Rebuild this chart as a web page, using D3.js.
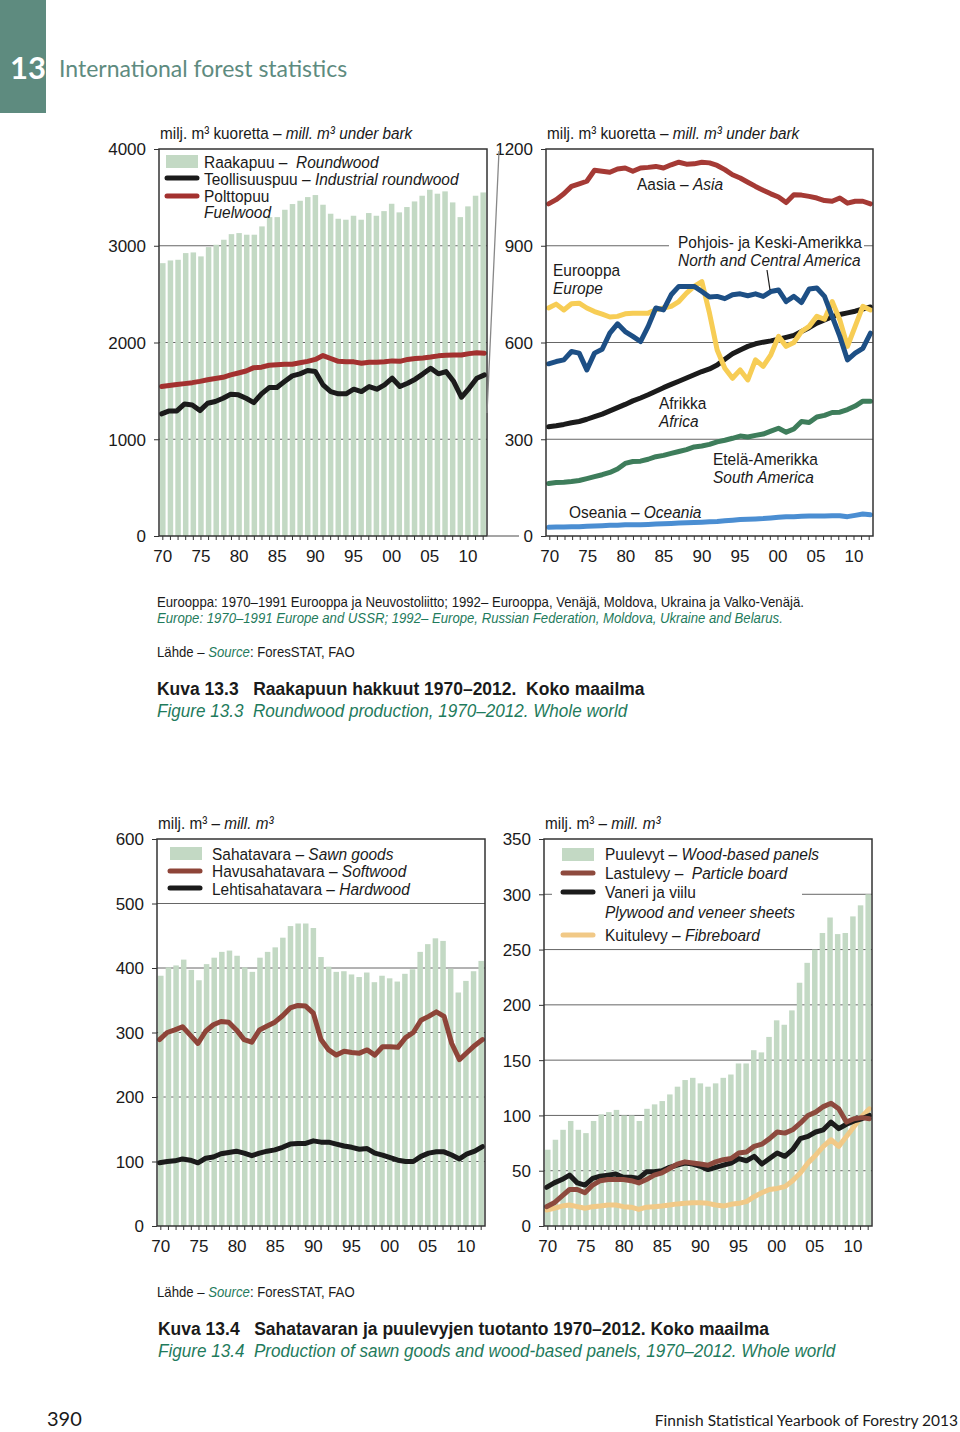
<!DOCTYPE html>
<html>
<head>
<meta charset="utf-8">
<script src="https://cdn.jsdelivr.net/npm/d3@7"></script>
<style>
  body { margin: 0; background: #fff; }
  svg text { font-family: 'Liberation Sans', Arial, sans-serif; fill: #1a1a1a; white-space: pre; }
</style>
</head>
<body>
<script>
// years on the x axis of every panel
const years = [1970, 1971, 1972, 1973, 1974, 1975, 1976, 1977, 1978, 1979,
  1980, 1981, 1982, 1983, 1984, 1985, 1986, 1987, 1988, 1989,
  1990, 1991, 1992, 1993, 1994, 1995, 1996, 1997, 1998, 1999,
  2000, 2001, 2002, 2003, 2004, 2005, 2006, 2007, 2008, 2009,
  2010, 2011, 2012]
const labelYears = [1970, 1975, 1980, 1985, 1990, 1995, 2000, 2005, 2010]
const yearLabels = ['70', '75', '80', '85', '90', '95', '00', '05', '10']

// figure 13.3 left: world roundwood (mill. m3)
const roundwood = [2820, 2848, 2855, 2924, 2931, 2890, 2986, 3010, 3062, 3120,
  3131, 3114, 3114, 3200, 3296, 3296, 3372, 3431, 3465, 3503,
  3524, 3424, 3331, 3279, 3269, 3310, 3269, 3338, 3310, 3358,
  3434, 3345, 3400, 3458, 3517, 3579, 3538, 3562, 3448, 3296,
  3407, 3517, 3551]
const industrial = [1262, 1293, 1293, 1365, 1355, 1296, 1372, 1390, 1424, 1465,
  1459, 1424, 1379, 1469, 1534, 1534, 1596, 1655, 1676, 1710,
  1700, 1562, 1493, 1469, 1469, 1517, 1493, 1545, 1517, 1562,
  1631, 1545, 1579, 1621, 1676, 1734, 1676, 1700, 1596, 1434,
  1527, 1631, 1665]
const fuelwood = [1545, 1555, 1565, 1575, 1585, 1598, 1615, 1628, 1640, 1665,
  1685, 1705, 1740, 1745, 1765, 1770, 1775, 1775, 1790, 1805,
  1825, 1865, 1835, 1805, 1800, 1800, 1785, 1795, 1795, 1800,
  1810, 1805, 1825, 1835, 1840, 1850, 1862, 1868, 1870, 1870,
  1885, 1893, 1890]
const roundTicks = [0, 1000, 2000, 3000, 4000]

// figure 13.3 right: industrial roundwood by region
const asia = [1030, 1043, 1061, 1084, 1092, 1100, 1134, 1131, 1128, 1138,
  1141, 1131, 1141, 1143, 1146, 1141, 1151, 1159, 1153, 1154,
  1159, 1157, 1149, 1136, 1120, 1110, 1097, 1084, 1072, 1061,
  1051, 1034, 1058, 1057, 1053, 1048, 1040, 1038, 1048, 1032,
  1038, 1038, 1030]
const europe = [707, 719, 701, 720, 722, 707, 696, 688, 679, 681,
  689, 691, 691, 691, 701, 707, 712, 727, 753, 774,
  789, 691, 577, 520, 489, 515, 484, 546, 526, 562,
  619, 588, 600, 634, 650, 681, 672, 727, 670, 588,
  650, 712, 701]
const ncAmerica = [534, 541, 546, 572, 567, 515, 567, 579, 629, 658,
  634, 619, 603, 650, 707, 701, 748, 774, 774, 774,
  758, 741, 743, 736, 748, 751, 745, 751, 743, 758,
  763, 727, 743, 724, 766, 769, 743, 681, 619, 546,
  567, 582, 629]
const africa = [339, 342, 346, 351, 355, 362, 370, 378, 388, 398,
  408, 419, 428, 438, 449, 460, 470, 480, 490, 500,
  510, 518, 530, 548, 565, 577, 588, 596, 601, 605,
  610, 616, 622, 634, 646, 660, 670, 680, 687, 692,
  697, 704, 710]
const southAmerica = [163, 166, 167, 169, 172, 178, 184, 190, 197, 208,
  225, 231, 232, 238, 246, 250, 256, 262, 268, 276,
  279, 284, 292, 297, 303, 310, 307, 312, 316, 325,
  334, 322, 332, 355, 352, 369, 374, 383, 384, 392,
  403, 418, 418]
const oceania = [27, 28, 28, 29, 29, 30, 31, 32, 33, 33,
  35, 35, 35, 36, 37, 38, 39, 40, 41, 42,
  43, 44, 45, 47, 49, 51, 52, 53, 54, 56,
  58, 60, 60, 61, 62, 62, 62, 63, 63, 60,
  64, 68, 66]
const regionTicks = [0, 300, 600, 900, 1200]

// figure 13.4 left: sawn goods
const sawnGoods = [388, 401, 404, 413, 397, 381, 406, 416, 425, 427,
  419, 401, 394, 416, 425, 432, 447, 465, 469, 469,
  462, 417, 402, 394, 395, 390, 386, 393, 378, 388,
  384, 379, 391, 398, 425, 437, 446, 442, 399, 362,
  380, 395, 411]
const softwood = [289, 300, 304, 309, 296, 283, 302, 312, 317, 316,
  304, 289, 285, 304, 310, 316, 326, 338, 342, 341,
  330, 289, 273, 265, 271, 269, 268, 273, 265, 278,
  278, 277, 292, 300, 319, 325, 332, 325, 283, 258,
  269, 280, 289]
const hardwood = [98, 100, 101, 104, 102, 98, 105, 107, 112, 114,
  116, 113, 109, 113, 116, 118, 122, 127, 128, 128,
  132, 130, 130, 127, 124, 122, 119, 120, 113, 110,
  106, 102, 100, 100, 108, 113, 115, 115, 110, 104,
  112, 116, 123]
const sawnTicks = [0, 100, 200, 300, 400, 500, 600]

// figure 13.4 right: wood-based panels
const panels = [69, 78, 87, 95, 87, 84, 95, 101, 103, 105,
  100, 100, 95, 106, 110, 113, 119, 126, 132, 134,
  129, 126, 129, 134, 137, 147, 147, 159, 157, 171,
  186, 182, 195, 220, 238, 250, 265, 279, 264, 265,
  280, 290, 300]
const particleBoard = [17.5, 21, 27, 33, 33, 30, 37, 41, 42, 42,
  42, 41, 39, 42, 46, 48, 52, 56, 58, 57,
  56, 55, 58, 60, 61, 66, 67, 72, 74, 79,
  85, 84, 87, 93, 100, 103, 108, 111, 106, 94,
  97, 98, 97]
const plywood = [35, 39, 42, 46, 39, 37, 43, 45, 46, 47,
  44, 44, 43, 49, 49, 50, 53, 55, 57, 56,
  54, 51, 53, 55, 57, 61, 59, 63, 56, 61,
  66, 63, 69, 79, 81, 85, 87, 94, 88, 92,
  95, 97, 100]
const fibreboard = [14.5, 16, 18, 19, 17.5, 16, 17.5, 18, 19, 19,
  17.5, 17, 15, 17, 17.5, 18, 19, 20, 20.5, 21,
  21, 20.5, 19, 18, 19.6, 20.5, 22, 26.5, 30, 33,
  34, 35.6, 41, 48, 57, 64, 72, 78, 72, 81,
  90, 99, 106]
const panelTicks = [0, 50, 100, 150, 200, 250, 300, 350]

const width = 960
const height = 1432
const teal = '#5e8b7f'
const green = '#1f7b5c'
const barFill = '#c3d9c4'

const svg = d3.select('body').append('svg')
  .attr('width', width)
  .attr('height', height)

//header block
svg.append('rect')
  .attr('x', 0).attr('y', 0).attr('width', 46).attr('height', 113)
  .attr('fill', teal)
svg.append('text')
  .text('13')
  .attr('x', 28).attr('y', 79)
  .attr('text-anchor', 'middle')
  .style('font-family', 'Lato, sans-serif')
  .style('font-size', '31px')
  .style('font-weight', 'bold')
  .style('fill', '#fff')
svg.append('text')
  .text('International forest statistics')
  .attr('x', 59).attr('y', 77)
  .style('font-family', 'Lato, sans-serif')
  .style('font-size', '23px')
  .style('fill', teal)

//write a line of mixed roman / italic text, squeezed sideways like a narrow face
function label(g, x, yPos, parts, size, squeeze) {
  const t = g.append('text')
    .attr('transform', `translate(${x},${yPos}) scale(${squeeze || 0.91},1)`)
    .style('font-size', (size || 17) + 'px')
  parts.forEach(p => {
    t.append('tspan').text(p[0]).style('font-style', p[1] ? 'italic' : 'normal')
  })
  return t
}

function legendLine(g, x, yPos, color) {
  g.append('line')
    .attr('x1', x).attr('x2', x + 30)
    .attr('y1', yPos).attr('y2', yPos)
    .attr('stroke', color)
    .attr('stroke-width', 5)
    .attr('stroke-linecap', 'round')
}

function legendBox(g, x, yPos) {
  g.append('rect')
    .attr('x', x).attr('y', yPos).attr('width', 32).attr('height', 13)
    .attr('fill', barFill)
}

//draws one framed panel with bars, lines and axes
function panel(cfg) {
  const x = d3.scaleBand()
    .domain(years)
    .range([cfg.x0, cfg.x1])
    .paddingInner(0.28)
    .paddingOuter(0.14)
  const xLine = d3.scalePoint()
    .domain(years)
    .range([cfg.x0 + 2.5, cfg.x1 - 2.5])
  const y = d3.scaleLinear()
    .domain([0, cfg.max])
    .range([cfg.y1, cfg.y0])

  const g = svg.append('g')

  //grid lines sit behind the bars
  g.selectAll('.grid')
    .data(cfg.grid)
    .join('line')
      .attr('class', 'grid')
      .attr('x1', cfg.x0).attr('x2', cfg.x1)
      .attr('y1', d => y(d)).attr('y2', d => y(d))
      .attr('stroke', '#666')
      .attr('stroke-width', 1)

  if (cfg.bars) {
    g.selectAll('.bar')
      .data(cfg.bars)
      .join('rect')
        .attr('class', 'bar')
        .attr('x', (d, i) => x(years[i]))
        .attr('y', d => y(d))
        .attr('width', x.bandwidth())
        .attr('height', d => y(0) - y(d))
        .attr('fill', barFill)
  }

  //white boxes that hide the grid line under some labels
  ;(cfg.masks || []).forEach(m => {
    g.append('rect')
      .attr('x', m[0]).attr('y', m[1]).attr('width', m[2]).attr('height', m[3])
      .attr('fill', '#fff')
  })

  const line = d3.line()
    .x((d, i) => xLine(years[i]))
    .y(d => y(d))
  cfg.lines.forEach(s => {
    g.append('path')
      .datum(s.values)
      .attr('d', line)
      .attr('fill', 'none')
      .attr('stroke', s.color)
      .attr('stroke-width', s.width || 5)
      .attr('stroke-linejoin', 'round')
      .attr('stroke-linecap', 'round')
  })

  //frame
  g.append('rect')
    .attr('x', cfg.x0).attr('y', cfg.y0)
    .attr('width', cfg.x1 - cfg.x0).attr('height', cfg.y1 - cfg.y0)
    .attr('fill', 'none')
    .attr('stroke', '#333')
    .attr('stroke-width', 1.5)

  //y axis
  const yAxis = g.append('g')
    .attr('transform', `translate(${cfg.x0},0)`)
    .call(d3.axisLeft(y).tickValues(cfg.yTicks).tickSize(5).tickPadding(8).tickFormat(d3.format('d')))
  yAxis.select('.domain').remove()
  yAxis.attr('font-family', null).attr('font-size', null)
  yAxis.selectAll('line').attr('stroke', '#333')
  yAxis.selectAll('text')
    .attr('dy', '0.35em')
    .style('font-size', '17px')

  //x axis with a tick per year, labels every fifth year
  const xAxis = g.append('g')
    .attr('transform', `translate(0,${cfg.y1})`)
    .call(d3.axisBottom(x)
      .tickValues(years)
      .tickSize(4)
      .tickPadding(6)
      .tickFormat(d => {
        const k = labelYears.indexOf(d)
        return k < 0 ? '' : yearLabels[k]
      }))
  xAxis.select('.domain').remove()
  xAxis.attr('font-family', null).attr('font-size', null)
  xAxis.selectAll('line').attr('stroke', '#333')
  xAxis.selectAll('text')
    .attr('dy', '0.95em')
    .style('font-size', '17px')

  //unit title above the frame
  label(g, cfg.x0 + 1, cfg.y0 - 10, [[cfg.unit[0], false], [cfg.unit[1], true]], 17, 0.9)

  return { g, x, y }
}

// ---- Figure 13.3 left
const p1 = panel({
  x0: 159, x1: 487, y0: 149, y1: 536,
  max: 4000, yTicks: roundTicks, grid: [1000, 2000, 3000],
  bars: roundwood,
  lines: [
    { values: fuelwood, color: '#a3312f' },
    { values: industrial, color: '#1b1b1b' }
  ],
  unit: ['milj. m³ kuoretta – ', 'mill. m³ under bark']
})
legendBox(p1.g, 166, 155)
label(p1.g, 204, 168, [['Raakapuu –  ', false], ['Roundwood', true]])
legendLine(p1.g, 167, 178, '#1b1b1b')
label(p1.g, 204, 185, [['Teollisuuspuu – ', false], ['Industrial roundwood', true]])
legendLine(p1.g, 167, 196, '#a3312f')
label(p1.g, 204, 202, [['Polttopuu', false]])
label(p1.g, 204, 218, [['Fuelwood', true]])

// ---- Figure 13.3 right
const p2 = panel({
  x0: 546, x1: 873, y0: 149, y1: 536,
  max: 1200, yTicks: regionTicks, grid: [300, 600, 900],
  masks: [[669, 232, 195, 38]],
  lines: [
    { values: oceania, color: '#4b8ed2' },
    { values: southAmerica, color: '#3e7d5b' },
    { values: africa, color: '#1b1b1b' },
    { values: europe, color: '#f7cd55' },
    { values: ncAmerica, color: '#1d4f85' },
    { values: asia, color: '#a53a35' }
  ],
  unit: ['milj. m³ kuoretta – ', 'mill. m³ under bark']
})
label(p2.g, 637, 190, [['Aasia – ', false], ['Asia', true]])
label(p2.g, 678, 248, [['Pohjois- ja Keski-Amerikka', false]])
label(p2.g, 678, 266, [['North and Central America', true]])
p2.g.append('line')
  .attr('x1', 767).attr('y1', 270).attr('x2', 770).attr('y2', 290)
  .attr('stroke', '#1b1b1b').attr('stroke-width', 1.2)
label(p2.g, 553, 276, [['Eurooppa', false]])
label(p2.g, 553, 294, [['Europe', true]])
label(p2.g, 659, 409, [['Afrikka', false]])
label(p2.g, 659, 427, [['Africa', true]])
label(p2.g, 713, 465, [['Etelä-Amerikka', false]])
label(p2.g, 713, 483, [['South America', true]])
label(p2.g, 569, 518, [['Oseania – ', false], ['Oceania', true]])

//grey connector between the two panels
svg.append('path')
  .attr('d', 'M487,413 L499,151 M488,536 L519,536')
  .attr('fill', 'none')
  .attr('stroke', '#888')
  .attr('stroke-width', 1.3)

//notes under figure 13.3
const notes = svg.append('g')
label(notes, 157, 607, [['Eurooppa: 1970–1991 Eurooppa ja Neuvostoliitto; 1992– Eurooppa, Venäjä, Moldova, Ukraina ja Valko-Venäjä.', false]], 14, 0.94)
label(notes, 157, 623, [['Europe: 1970–1991 Europe and USSR; 1992– Europe, Russian Federation, Moldova, Ukraine and Belarus.', true]], 14, 0.94)
  .style('fill', green)
const src1 = label(notes, 157, 657, [['Lähde – ', false], ['Source', true], [': ForesSTAT, FAO', false]], 14, 0.94)
src1.select('tspan:nth-child(2)').style('fill', green)
label(notes, 157, 695, [['Kuva 13.3   Raakapuun hakkuut 1970–2012.  Koko maailma', false]], 19, 0.92)
  .style('font-weight', 'bold')
label(notes, 157, 717, [['Figure 13.3  Roundwood production, 1970–2012. Whole world', true]], 19, 0.9)
  .style('fill', green)

// ---- Figure 13.4 left
const p3 = panel({
  x0: 157, x1: 485, y0: 839, y1: 1226,
  max: 600, yTicks: sawnTicks, grid: [100, 200, 300, 400, 500],
  bars: sawnGoods,
  lines: [
    { values: softwood, color: '#8e4438' },
    { values: hardwood, color: '#1b1b1b' }
  ],
  unit: ['milj. m³ – ', 'mill. m³']
})
legendBox(p3.g, 170, 847)
label(p3.g, 212, 860, [['Sahatavara – ', false], ['Sawn goods', true]])
legendLine(p3.g, 170, 871, '#8e4438')
label(p3.g, 212, 877, [['Havusahatavara – ', false], ['Softwood', true]])
legendLine(p3.g, 170, 888, '#1b1b1b')
label(p3.g, 212, 895, [['Lehtisahatavara – ', false], ['Hardwood', true]])

// ---- Figure 13.4 right
const p4 = panel({
  x0: 544, x1: 872, y0: 839, y1: 1226,
  max: 350, yTicks: panelTicks, grid: [50, 100, 150, 200, 250, 300],
  bars: panels,
  masks: [[552, 841, 250, 104]],
  lines: [
    { values: fibreboard, color: '#f1c987' },
    { values: plywood, color: '#1b1b1b' },
    { values: particleBoard, color: '#8e4a3e' }
  ],
  unit: ['milj. m³ – ', 'mill. m³']
})
legendBox(p4.g, 562, 848)
label(p4.g, 605, 860, [['Puulevyt – ', false], ['Wood-based panels', true]])
legendLine(p4.g, 563, 873, '#8e4a3e')
label(p4.g, 605, 879, [['Lastulevy –  ', false], ['Particle board', true]])
legendLine(p4.g, 563, 892, '#1b1b1b')
label(p4.g, 605, 898, [['Vaneri ja viilu', false]])
label(p4.g, 605, 918, [['Plywood and veneer sheets', true]])
legendLine(p4.g, 563, 935, '#f1c987')
label(p4.g, 605, 941, [['Kuitulevy – ', false], ['Fibreboard', true]])

//notes under figure 13.4
const notes2 = svg.append('g')
const src2 = label(notes2, 157, 1297, [['Lähde – ', false], ['Source', true], [': ForesSTAT, FAO', false]], 14, 0.94)
src2.select('tspan:nth-child(2)').style('fill', green)
label(notes2, 158, 1335, [['Kuva 13.4   Sahatavaran ja puulevyjen tuotanto 1970–2012. Koko maailma', false]], 19, 0.92)
  .style('font-weight', 'bold')
label(notes2, 158, 1357, [['Figure 13.4  Production of sawn goods and wood-based panels, 1970–2012. Whole world', true]], 19, 0.9)
  .style('fill', green)

//page footer
svg.append('text')
  .text('390')
  .attr('x', 47).attr('y', 1426)
  .style('font-family', 'Lato, sans-serif')
  .style('font-size', '20px')
svg.append('text')
  .text('Finnish Statistical Yearbook of Forestry 2013')
  .attr('x', 958).attr('y', 1426)
  .attr('text-anchor', 'end')
  .style('font-family', 'Lato, sans-serif')
  .style('font-size', '15.5px')
</script>
</body>
</html>
